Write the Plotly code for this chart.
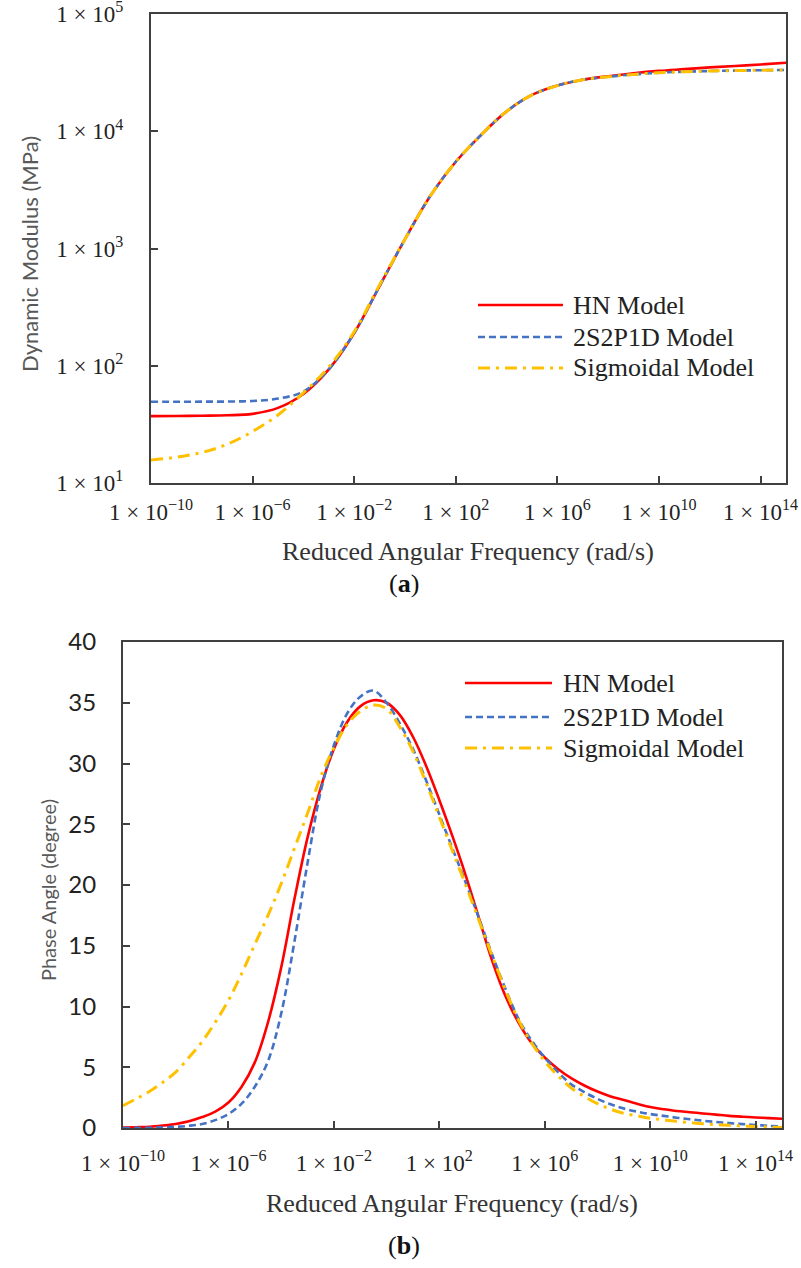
import plotly.graph_objects as go

W, H = 801, 1268

# ---------------- data: panel (a) dynamic modulus (MPa) ----------------
freq_a = [1e-10, 1e-9, 1e-8, 1e-7, 1e-6, 1e-5, 1e-4, 1e-3, 1e-2, 1e-1, 1e0,
          1e1, 1e2, 1e3, 1e4, 1e5, 1e6, 1e7, 1e8, 1e9, 1e10, 1e11, 1e12,
          1e13, 1e14, 1e15]
hn_mod = [37.2, 37.3, 37.5, 37.8, 38.9, 43.7, 57.5, 93.3, 190.5, 478.6, 1202,
          2818, 5495, 9333, 14791, 20417, 24547, 27542, 29512, 31261, 32734,
          33884, 35075, 36058, 37154, 38459]
s2p1d_mod = [49.3, 49.3, 49.4, 49.5, 50.1, 52.5, 60.3, 93.3, 190.0, 479, 1202,
             2818, 5495, 9333, 14791, 20417, 24547, 27542, 29174, 30549, 31623,
             32211, 32659, 32961, 33189, 33343]
sig_mod = [15.7, 16.6, 18.2, 21.4, 27.5, 38.0, 58.9, 97.7, 195, 490, 1202,
           2818, 5495, 9333, 14791, 20417, 24547, 27542, 29174, 30549, 31623,
           32211, 32659, 32961, 33189, 33343]

# ---------------- data: panel (b) phase angle (degree), half-decade steps ----------------
freq_b = [1e-10, 3.162e-10, 1e-9, 3.162e-9, 1e-8, 3.162e-8, 1e-7, 3.162e-7,
          1e-6, 3.162e-6, 1e-5, 3.162e-5, 1e-4, 3.162e-4, 1e-3, 3.162e-3,
          1e-2, 3.162e-2, 1e-1, 3.162e-1, 1e0, 3.162e0, 1e1, 3.162e1, 1e2,
          3.162e2, 1e3, 3.162e3, 1e4, 3.162e4, 1e5, 3.162e5, 1e6, 3.162e6,
          1e7, 3.162e7, 1e8, 3.162e8, 1e9, 3.162e9, 1e10, 3.162e10, 1e11,
          3.162e11, 1e12, 3.162e12, 1e13, 3.162e13, 1e14, 3.162e14, 1e15]
hn_phase = [0.03, 0.06, 0.1, 0.2, 0.33, 0.55, 0.9, 1.35, 2.1, 3.4, 5.4, 8.7,
            13.2, 18.8, 23.9, 28.0, 31.2, 33.4, 34.7, 35.2, 35.0, 34.0, 32.2,
            29.8, 27.0, 24.0, 20.8, 17.3, 13.8, 10.9, 8.7, 7.0, 5.8, 4.85,
            4.1, 3.5, 3.0, 2.6, 2.3, 2.0, 1.72, 1.55, 1.4, 1.3, 1.2, 1.1, 1.0,
            0.93, 0.87, 0.81, 0.76]
s2p1d_phase = [0.0, 0.01, 0.02, 0.05, 0.1, 0.18, 0.33, 0.65, 1.15, 2.0, 3.4,
               5.5, 9.4, 15.3, 21.8, 27.7, 31.5, 34.1, 35.5, 36.0, 35.0, 33.3,
               31.2, 28.6, 25.8, 23.0, 20.2, 17.3, 14.3, 11.5, 9.0, 7.2, 5.8,
               4.6, 3.6, 2.95, 2.4, 1.95, 1.6, 1.35, 1.15, 1.0, 0.85, 0.72,
               0.6, 0.5, 0.4, 0.32, 0.25, 0.18, 0.12]
sig_phase = [1.84, 2.4, 3.0, 3.75, 4.6, 5.8, 7.1, 8.7, 10.5, 12.7, 15.1, 17.5,
             20.1, 23.0, 25.9, 28.9, 31.3, 33.2, 34.3, 34.8, 34.5, 33.0, 31.0,
             28.4, 25.6, 22.8, 20.0, 17.1, 14.2, 11.4, 8.9, 7.0, 5.5, 4.3,
             3.3, 2.6, 2.0, 1.55, 1.2, 1.0, 0.8, 0.67, 0.55, 0.45, 0.35, 0.28,
             0.22, 0.17, 0.12, 0.08, 0.05]

series_names = ["HN Model", "2S2P1D Model", "Sigmoidal Model"]
colors = ["#FF0000", "#4472C4", "#FFC000"]
dashes = ["solid", "7px,4px", "12px,6px,3px,6px"]
widths = [2.6, 2.6, 3.0]

x_tickvals = [1e-10, 1e-6, 1e-2, 1e2, 1e6, 1e10, 1e14]
x_ticktext = ["1 × 10<sup>−10</sup>", "1 × 10<sup>−6</sup>", "1 × 10<sup>−2</sup>",
              "1 × 10<sup>2</sup>", "1 × 10<sup>6</sup>", "1 × 10<sup>10</sup>",
              "1 × 10<sup>14</sup>"]
ya_tickvals = [1e1, 1e2, 1e3, 1e4, 1e5]
ya_ticktext = ["1 × 10<sup>1</sup>", "1 × 10<sup>2</sup>", "1 × 10<sup>3</sup>",
               "1 × 10<sup>4</sup>", "1 × 10<sup>5</sup>"]

SERIF = "Liberation Serif, Times New Roman, serif"
SANS = "Lato, Open Sans, sans-serif"
AX = "#404040"

fig = go.Figure()

panel_a = [hn_mod, s2p1d_mod, sig_mod]
panel_b = [hn_phase, s2p1d_phase, sig_phase]
for i in range(3):
    fig.add_trace(go.Scatter(x=freq_a, y=panel_a[i], mode="lines", name=series_names[i],
                             line=dict(color=colors[i], width=widths[i], dash=dashes[i],
                                       shape="spline", smoothing=1.0),
                             xaxis="x", yaxis="y", showlegend=False))
for i in range(3):
    fig.add_trace(go.Scatter(x=freq_b, y=panel_b[i], mode="lines", name=series_names[i],
                             line=dict(color=colors[i], width=widths[i], dash=dashes[i],
                                       shape="spline", smoothing=1.0),
                             xaxis="x2", yaxis="y2", showlegend=False))


def px(x):
    return x / W


def py(y):
    return 1 - y / H


common_axis = dict(showline=True, linecolor=AX, linewidth=2, mirror=True,
                   ticks="inside", ticklen=7, tickwidth=1.5, tickcolor=AX,
                   showgrid=False, zeroline=False, automargin=False,
                   ticklabeloverflow="allow")

fig.update_layout(
    template="none",
    width=W, height=H, margin=dict(l=0, r=0, t=0, b=0, pad=0, autoexpand=False),
    paper_bgcolor="white", plot_bgcolor="white", showlegend=False,
    xaxis=dict(domain=[px(151), px(786)], anchor="y", type="log", range=[-10, 15],
               tickvals=x_tickvals, ticktext=x_ticktext, ticklabelstandoff=7,
               tickfont=dict(family=SERIF, size=23, color="#222222"), **common_axis),
    yaxis=dict(domain=[py(483), py(14)], anchor="x", type="log", range=[1, 5.0005],
               tickvals=ya_tickvals, ticktext=ya_ticktext, ticklabelstandoff=21,
               tickfont=dict(family=SERIF, size=23, color="#222222"), **common_axis),
    xaxis2=dict(domain=[px(123), px(782)], anchor="y2", type="log", range=[-10, 15],
                tickvals=x_tickvals, ticktext=x_ticktext, ticklabelstandoff=13,
                tickfont=dict(family=SERIF, size=23, color="#222222"), **common_axis),
    yaxis2=dict(domain=[py(1128), py(642)], anchor="x2", range=[0, 40], dtick=5,
                ticklabelstandoff=20,
                tickfont=dict(family=SANS, size=24, color="#222222"), **common_axis),
)

annotations = [
    dict(text="Reduced Angular Frequency (rad/s)", x=px(468), y=py(551),
         font=dict(family=SERIF, size=26, color="#333333")),
    dict(text="Reduced Angular Frequency (rad/s)", x=px(452), y=py(1203),
         font=dict(family=SERIF, size=26, color="#333333")),
    dict(text="Dynamic Modulus (MPa)", x=px(30), y=py(254), textangle=-90,
         font=dict(family=SANS, size=22, color="#595959")),
    dict(text="Phase Angle (degree)", x=px(48), y=py(890), textangle=-90,
         font=dict(family=SANS, size=20, color="#595959")),
    dict(text="(<b>a</b>)", x=px(404), y=py(583),
         font=dict(family=SERIF, size=26, color="#111111")),
    dict(text="(<b>b</b>)", x=px(404), y=py(1245),
         font=dict(family=SERIF, size=26, color="#111111")),
]
for a in annotations:
    a["xanchor"] = "center"
    a["yanchor"] = "middle"

shapes = []
legend_a = dict(x0=478, x1=563, tx=571, ys=[305, 337, 368])
legend_b = dict(x0=465, x1=552, tx=561, ys=[683, 717, 748])
for lg in (legend_a, legend_b):
    for i in range(3):
        y = lg["ys"][i]
        shapes.append(dict(type="line", xref="paper", yref="paper",
                           x0=px(lg["x0"]), x1=px(lg["x1"]), y0=py(y), y1=py(y),
                           line=dict(color=colors[i], width=widths[i], dash=dashes[i])))
        annotations.append(dict(text=series_names[i], x=px(lg["tx"]), y=py(y),
                                xanchor="left", yanchor="middle",
                                font=dict(family=SERIF, size=26, color="#222222")))

for a in annotations:
    a.setdefault("xref", "paper")
    a.setdefault("yref", "paper")
    a.setdefault("showarrow", False)

fig.update_layout(annotations=annotations, shapes=shapes)

fig.write_html("out.html")
